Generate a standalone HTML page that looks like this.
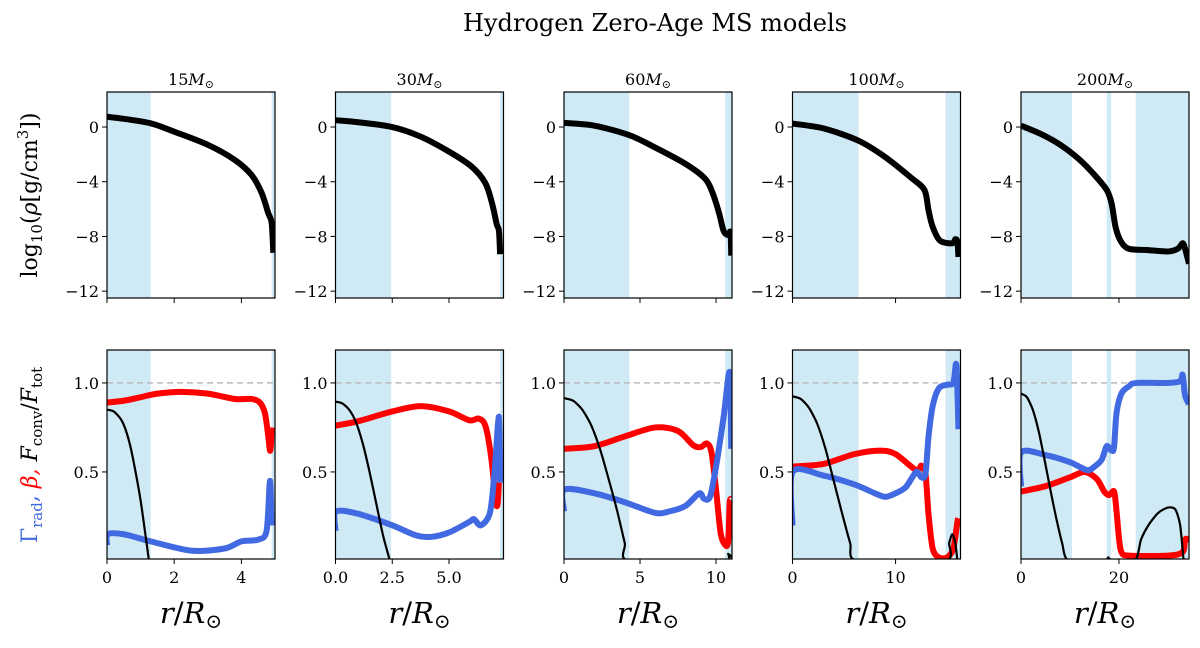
<!DOCTYPE html>
<html><head><meta charset="utf-8"><style>
html,body{margin:0;padding:0;background:#fff;}
svg{display:block;font-family:"DejaVu Serif","Liberation Serif",serif;}
</style></head><body>
<svg id="fig" width="1200" height="648" viewBox="0 0 1200 648" xmlns="http://www.w3.org/2000/svg">
<text x="655" y="31" text-anchor="middle" font-size="24" textLength="384" lengthAdjust="spacingAndGlyphs" fill="#000">Hydrogen Zero-Age MS models</text>
<text transform="translate(37,195) rotate(-90)" text-anchor="middle" font-size="22" fill="#000">log<tspan font-size="15" dy="5">10</tspan><tspan dy="-5">(</tspan><tspan font-style="italic">ρ</tspan>[g/cm<tspan font-size="15" dy="-9">3</tspan><tspan dy="9">])</tspan></text>
<text transform="translate(37,455) rotate(-90)" text-anchor="middle" font-size="22"><tspan fill="#4169e1">Γ<tspan font-size="15" dy="5">rad</tspan><tspan dy="-5">,</tspan></tspan><tspan fill="#ff0000" font-style="italic"> β,</tspan><tspan fill="#000"> <tspan font-style="italic">F</tspan><tspan font-size="15" dy="5">conv</tspan><tspan dy="-5">/</tspan><tspan font-style="italic">F</tspan><tspan font-size="15" dy="5">tot</tspan></tspan></text>
</svg>
<script>
// ---- data ----
const masses = ["15","30","60","100","200"];
const xMax = [5.0, 7.4, 11.05, 16.3, 34.3];
const xTicks = [[0,2,4],[0,2.5,5.0],[0,5,10],[0,10],[0,20]];
const xTickLabels = [["0","2","4"],["0.0","2.5","5.0"],["0","5","10"],["0","10"],["0","20"]];
const convZones = [
 [[0,1.3],[4.9,5.0]],
 [[0,2.45],[7.25,7.4]],
 [[0,4.3],[10.6,11.05]],
 [[0,6.4],[14.85,16.3]],
 [[0,10.4],[17.5,18.4],[23.4,34.3]]
];
const rhoTicks = [0,-4,-8,-12];
const fracTicks = [0.5,1.0];
const rhoX = [
 [0,0.5,1.3,2,3,3.8,4.3,4.6,4.8,4.9,4.95],
 [0,1,2.5,3.75,5,6,6.6,6.9,7.1,7.2,7.25],
 [0,2,4.3,6,8,9.3,9.8,10.2,10.5,10.8,10.95,11.0],
 [0,3,6.4,9,11.5,12.8,13.2,13.6,14.3,15.5,15.8,16.0,16.1],
 [0,4,8,12,15,17.5,18.5,19.3,20.3,22,26,30,32,33,33.5,34.3]
];
const rhoY = [
 [0.75,0.6,0.27,-0.34,-1.3,-2.4,-3.5,-4.8,-6.3,-7.0,-9.2],
 [0.5,0.35,0,-0.7,-1.8,-2.9,-4.1,-5.6,-7.1,-7.6,-9.3],
 [0.3,0.1,-0.6,-1.5,-2.7,-3.8,-4.9,-6.3,-7.6,-7.9,-7.7,-9.4],
 [0.25,-0.1,-1.0,-2.2,-3.7,-4.6,-6.1,-7.3,-8.3,-8.5,-8.2,-8.4,-9.5],
 [0.1,-0.5,-1.3,-2.4,-3.5,-4.6,-5.6,-7.3,-8.3,-8.9,-9.0,-9.1,-8.9,-8.5,-8.9,-10]
];
const betaX = [
 [0,0.5,1,1.5,2.2,3,3.8,4.3,4.55,4.7,4.8,4.85,4.88,4.9],
 [0,1,2.5,3.75,5,5.9,6.3,6.6,6.85,7.1,7.2],
 [0,2,4,6,7.5,8.5,9.0,9.4,9.7,10.0,10.3,10.6,10.8,10.9,11.0],
 [0,3,6,8.5,10,12,12.5,12.9,13.2,13.6,14.2,15,15.6,16.0,16.1],
 [0,5,10,13,15.5,17,18,19,19.5,20,20.5,22,30,33,33.5,34.3]
];
const betaY = [
 [0.89,0.90,0.92,0.94,0.95,0.94,0.91,0.91,0.89,0.83,0.70,0.62,0.66,0.75],
 [0.76,0.785,0.84,0.87,0.84,0.79,0.80,0.76,0.59,0.31,0.44],
 [0.63,0.645,0.70,0.75,0.73,0.65,0.64,0.66,0.61,0.40,0.157,0.09,0.11,0.33,0.34],
 [0.53,0.545,0.60,0.62,0.60,0.51,0.535,0.49,0.26,0.07,0.02,0.02,0.07,0.22,0.24],
 [0.39,0.42,0.47,0.50,0.46,0.39,0.37,0.39,0.28,0.13,0.05,0.03,0.03,0.05,0.12,0.12]
];
const gammaX = [
 [0,0.02,0.5,1.3,2.5,3.5,4,4.5,4.75,4.85,4.9],
 [0,0.02,1.0,2.5,3.5,4.2,5.0,5.9,6.1,6.4,6.8,7.0,7.2,7.25],
 [0,0.02,2,4,6,7,8,8.9,9.2,9.6,10,10.5,10.9,11.0],
 [0,0.02,3,6,8,9,10,11,12,12.5,12.9,13.2,13.6,14.2,15,15.6,15.9,16.1],
 [0,0.02,5,10,13.5,15,16.5,17.5,18.5,19,19.5,20.5,22,23.5,30,32.5,33,33.5,34.3]
];
const gammaY = [
 [0.09,0.15,0.15,0.11,0.058,0.07,0.11,0.12,0.17,0.45,0.2],
 [0.17,0.277,0.265,0.20,0.146,0.135,0.16,0.22,0.235,0.20,0.27,0.49,0.81,0.44],
 [0.28,0.40,0.38,0.33,0.27,0.28,0.31,0.38,0.35,0.36,0.53,0.81,1.06,0.63],
 [0.2,0.50,0.48,0.43,0.38,0.36,0.38,0.415,0.50,0.47,0.49,0.70,0.87,0.97,0.99,1.0,1.1,0.74],
 [0.42,0.61,0.595,0.555,0.51,0.53,0.57,0.645,0.62,0.64,0.83,0.94,0.98,1.0,1.0,1.01,1.045,0.93,0.88]
];
const fconvX = [
 [0,0.2,0.4,0.55,0.7,0.85,1.0,1.12,1.25],
 [0,0.3,0.6,0.9,1.2,1.5,1.8,2.1,2.4],
 [0,0.6,1.2,1.8,2.4,3.0,3.5,4.0,4.3,10.7,10.8,10.9],
 [0,0.8,1.6,2.4,3.2,4.0,4.8,5.6,6.3,14.8,15.2,15.5,15.8,16.0],
 [0,1.2,2.4,3.6,4.8,6.0,7.2,8.4,9.8,17.7,17.8,17.9,23.2,24.5,26,28,30,31.5,32.5,33.2]
];
const fconvY = [
 [0.85,0.84,0.80,0.74,0.64,0.50,0.34,0.18,0],
 [0.895,0.885,0.85,0.78,0.66,0.50,0.32,0.14,0],
 [0.915,0.90,0.85,0.76,0.62,0.44,0.28,0.10,0,0,0.04,0],
 [0.925,0.91,0.86,0.77,0.63,0.45,0.27,0.10,0,0,0.1,0.15,0.1,0],
 [0.94,0.92,0.85,0.73,0.57,0.40,0.24,0.10,0,0,0.02,0,0,0.12,0.2,0.27,0.30,0.29,0.2,0]
];

// ---- layout ----
const NS="http://www.w3.org/2000/svg";
const svg=document.getElementById('fig');
const lefts=[107,335.5,564,792.5,1021];
const PW=168;
const topY0=92, topY1=298, botY0=350, botY1=559;
const rhoMin=-12.5, rhoMax=2.56, fMin=0.011, fMax=1.185;
function mk(tag,attrs,parent){const e=document.createElementNS(NS,tag);for(const k in attrs)e.setAttribute(k,attrs[k]);(parent||svg).appendChild(e);return e;}
function smoothPath(pts,t){
  let d="M"+pts[0][0].toFixed(2)+","+pts[0][1].toFixed(2);
  for(let i=0;i<pts.length-1;i++){
    const p0=pts[Math.max(0,i-1)],p1=pts[i],p2=pts[i+1],p3=pts[Math.min(pts.length-1,i+2)];
    const c1=[p1[0]+(p2[0]-p0[0])*t,p1[1]+(p2[1]-p0[1])*t];
    const c2=[p2[0]-(p3[0]-p1[0])*t,p2[1]-(p3[1]-p1[1])*t];
    d+=" C"+c1[0].toFixed(2)+","+c1[1].toFixed(2)+" "+c2[0].toFixed(2)+","+c2[1].toFixed(2)+" "+p2[0].toFixed(2)+","+p2[1].toFixed(2);
  }
  return d;
}

for(let p=0;p<5;p++){
  const L=lefts[p];
  const sx=v=>L+v/xMax[p]*PW;
  const syT=v=>topY0+(rhoMax-v)/(rhoMax-rhoMin)*(topY1-topY0);
  const syB=v=>botY0+(fMax-v)/(fMax-fMin)*(botY1-botY0);
  const g=mk('g',{});
  
  
  const clipT='clipT'+p, clipB='clipB'+p;
  const defs=mk('defs',{},g);
  const c1=mk('clipPath',{id:clipT},defs); mk('rect',{x:L,y:topY0,width:PW,height:topY1-topY0},c1);
  const c2=mk('clipPath',{id:clipB},defs); mk('rect',{x:L,y:botY0,width:PW,height:botY1-botY0},c2);
  const tt=mk('text',{x:L+PW/2,y:85,'text-anchor':'middle','font-size':'16',fill:'#000'},g);
  
  
  tt.innerHTML=masses[p]+'<tspan font-style="italic">M</tspan><tspan font-size="11" dy="3">⊙</tspan>';
  for(const [a,b] of convZones[p]){
    for(const [y0,y1] of [[topY0,topY1],[botY0,botY1]]){
      const r=mk('rect',{x:sx(a),y:y0,width:Math.max(1,sx(b)-sx(a)),height:y1-y0,fill:'#cfe9f5'},g);
      
      
    }
  }
  const dl=mk('line',{x1:L,x2:L+PW,y1:syB(1),y2:syB(1),stroke:'#bbb','stroke-width':1.5,'stroke-dasharray':'6,4'},g);
  
  
  const rp=mk('path',{d:smoothPath(rhoX[p].map((x,i)=>[sx(x),syT(rhoY[p][i])]),0.15),fill:'none',stroke:'#000','stroke-width':6,'stroke-linejoin':'round','clip-path':'url(#'+clipT+')'},g);
  
  
  const bp=mk('path',{d:smoothPath(betaX[p].map((x,i)=>[sx(x),syB(betaY[p][i])]),0.15),fill:'none',stroke:'#ff0000','stroke-width':6,'stroke-linejoin':'round','clip-path':'url(#'+clipB+')'},g);
  
  
  const gp=mk('path',{d:smoothPath(gammaX[p].map((x,i)=>[sx(x),syB(gammaY[p][i])]),0.15),fill:'none',stroke:'#4169e1','stroke-width':6,'stroke-linejoin':'round','clip-path':'url(#'+clipB+')'},g);
  
  
  const fp=mk('path',{d:smoothPath(fconvX[p].map((x,i)=>[sx(x),syB(fconvY[p][i])]),0.12),fill:'none',stroke:'#000','stroke-width':2.2,'stroke-linejoin':'round','clip-path':'url(#'+clipB+')'},g);
  
  
  for(const [y0,y1] of [[topY0,topY1],[botY0,botY1]]){
    const fr=mk('rect',{x:L,y:y0,width:PW,height:y1-y0,fill:'none',stroke:'#000','stroke-width':1.2},g);
    
    
  }
  xTicks[p].forEach((t,i)=>{
    const x=sx(t);
    mk('line',{x1:x,x2:x,y1:topY1,y2:topY1+5,stroke:'#000','stroke-width':1},g);
    mk('line',{x1:x,x2:x,y1:botY1,y2:botY1+5,stroke:'#000','stroke-width':1},g);
    const tl=mk('text',{x:x,y:botY1+24,'text-anchor':'middle','font-size':'16',fill:'#000'},g);
    
    
    tl.textContent=xTickLabels[p][i];
  });
  rhoTicks.forEach(t=>{
    const y=syT(t);
    mk('line',{x1:L-5,x2:L,y1:y,y2:y,stroke:'#000','stroke-width':1},g);
    const tl=mk('text',{x:L-8,y:y+6,'text-anchor':'end','font-size':'16',fill:'#000'},g);
    
    
    tl.textContent=t<0?'\u2212'+(-t):String(t);
  });
  fracTicks.forEach(t=>{
    const y=syB(t);
    mk('line',{x1:L-5,x2:L,y1:y,y2:y,stroke:'#000','stroke-width':1},g);
    const tl=mk('text',{x:L-8,y:y+6,'text-anchor':'end','font-size':'16',fill:'#000'},g);
    
    
    tl.textContent=t.toFixed(1);
  });
  const xt=mk('text',{x:L+PW/2,y:623,'text-anchor':'middle','font-size':'29',fill:'#000'},g);
  
  
  xt.innerHTML='<tspan font-style="italic">r</tspan>/<tspan font-style="italic">R</tspan><tspan font-size="20" dy="5">⊙</tspan>';
}
</script>
</body></html>
